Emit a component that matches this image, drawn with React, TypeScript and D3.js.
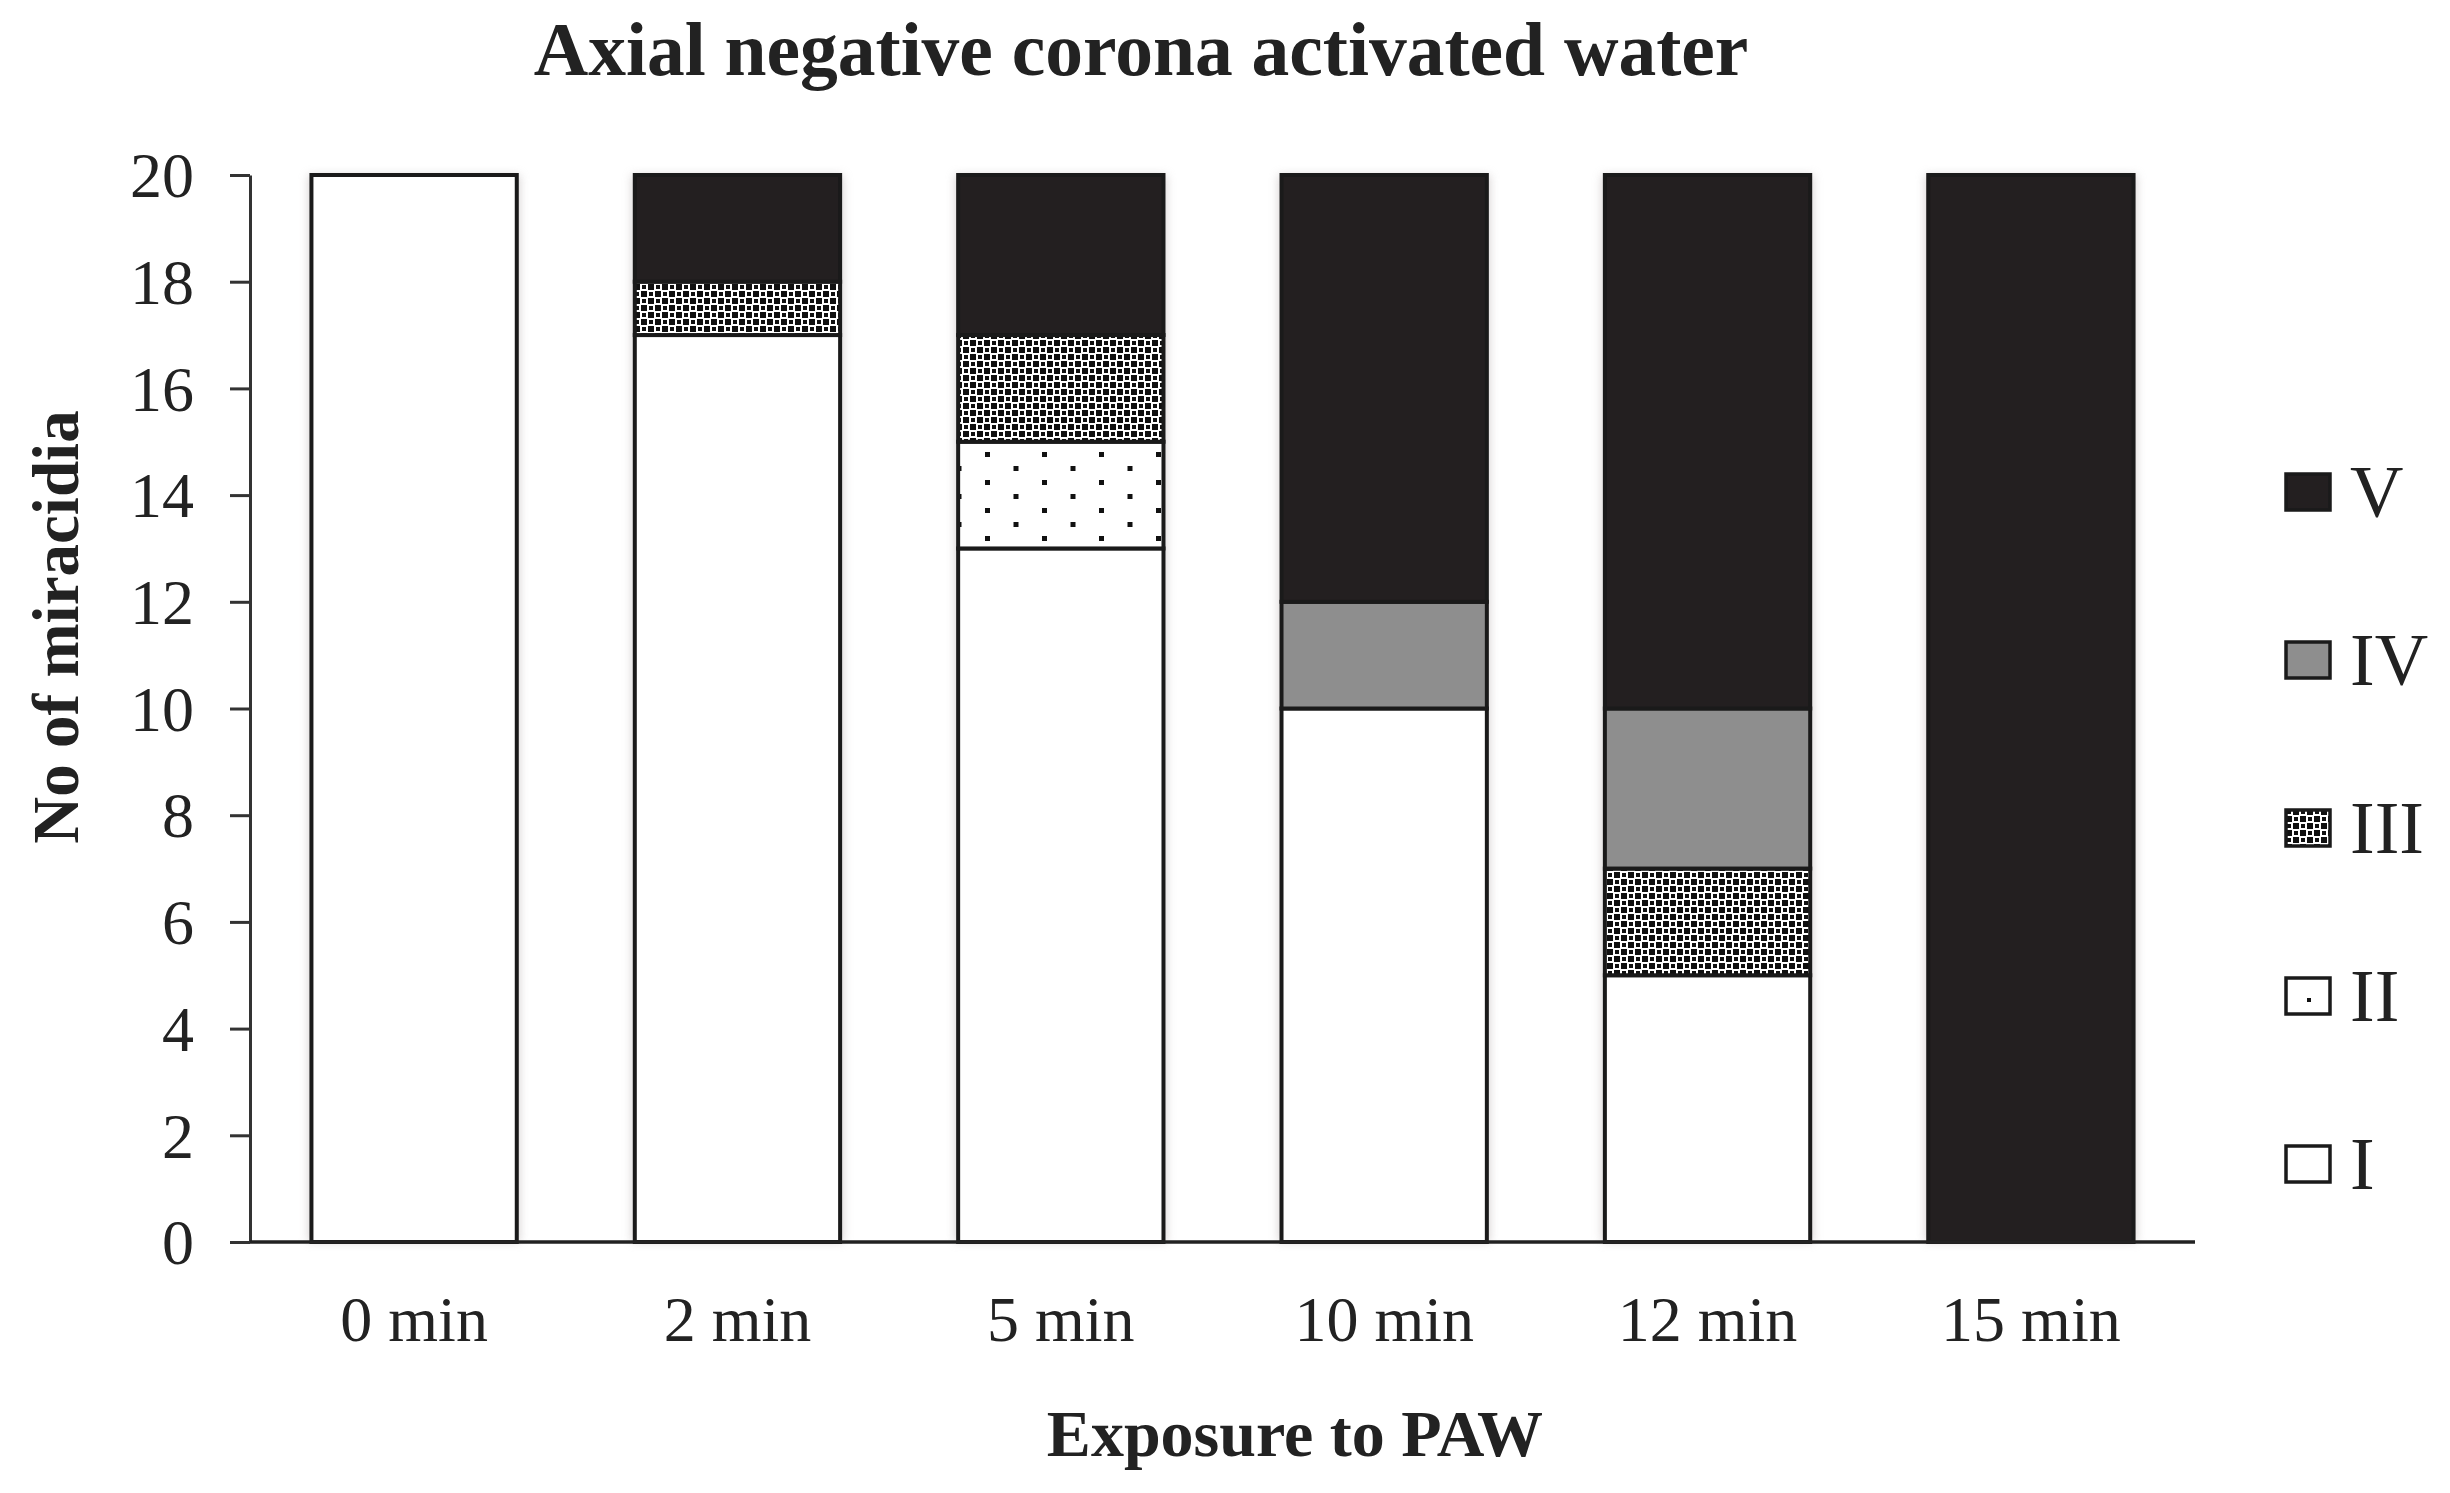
import React, { useRef, useEffect } from 'react';
import * as d3 from 'd3';

// exposure times on the x axis
const times = ['0 min', '2 min', '5 min', '10 min', '12 min', '15 min'];
// stage names, stacked bottom to top
const stages = ['I', 'II', 'III', 'IV', 'V'];
// miracidia counts per stage for each exposure time
const stageI = [20, 17, 13, 10, 5, 0];
const stageII = [0, 0, 2, 0, 0, 0];
const stageIII = [0, 1, 2, 0, 2, 0];
const stageIV = [0, 0, 0, 2, 3, 0];
const stageV = [0, 2, 3, 8, 10, 20];
const yTicks = [0, 2, 4, 6, 8, 10, 12, 14, 16, 18, 20];

const W = 2450;
const H = 1493;
const FONT = '"Liberation Serif", "Times New Roman", serif';

const App = () => {
    const ref = useRef<SVGSVGElement>(null);

    useEffect(() => {
        const svg = d3.select(ref.current);
        svg.selectAll('*').remove();

        const left = 250, right = 2195, top = 175, bottom = 1242;

        const rows = times.map((t, i) => ({
            time: t,
            I: stageI[i], II: stageII[i], III: stageIII[i], IV: stageIV[i], V: stageV[i],
        }));
        const series = d3.stack().keys(stages)(rows as any);

        const x = d3.scaleBand().domain(times).range([left, right]).paddingInner(0.365).paddingOuter(0.19);
        const y = d3.scaleLinear().domain([0, 20]).range([bottom, top]);

        // --- fill patterns ---
        const defs = svg.append('defs');

        const checker = defs.append('pattern')
            .attr('id', 'pat-III').attr('patternUnits', 'userSpaceOnUse')
            .attr('width', 14).attr('height', 14);
        checker.append('rect').attr('width', 14).attr('height', 14).attr('fill', '#fff');
        [[0, 0], [14, 0], [0, 14], [14, 14], [7, 7]].forEach(([cx, cy]) =>
            checker.append('rect').attr('x', cx - 3).attr('y', cy - 3).attr('width', 6).attr('height', 6).attr('fill', '#111'));
        [[7, 0], [0, 7], [14, 7], [7, 14]].forEach(([cx, cy]) =>
            checker.append('rect').attr('x', cx - 2).attr('y', cy - 2).attr('width', 4).attr('height', 4).attr('fill', '#111'));

        const dots = defs.append('pattern')
            .attr('id', 'pat-II').attr('patternUnits', 'userSpaceOnUse')
            .attr('width', 57).attr('height', 28).attr('x', 4).attr('y', 2);
        dots.append('rect').attr('width', 57).attr('height', 28).attr('fill', '#fff');
        dots.append('rect').attr('x', 12).attr('y', 2).attr('width', 5).attr('height', 5).attr('fill', '#111');
        dots.append('rect').attr('x', 40.5).attr('y', 16).attr('width', 5).attr('height', 5).attr('fill', '#111');

        const legendDots = defs.append('pattern')
            .attr('id', 'pat-II-legend').attr('patternUnits', 'objectBoundingBox')
            .attr('width', 1).attr('height', 1);
        legendDots.append('rect').attr('width', 46).attr('height', 36).attr('fill', '#fff');
        legendDots.append('rect').attr('x', 21).attr('y', 20).attr('width', 4).attr('height', 4).attr('fill', '#111');

        const shadow = defs.append('filter').attr('id', 'halo')
            .attr('x', '-20%').attr('y', '-5%').attr('width', '140%').attr('height', '110%');
        shadow.append('feGaussianBlur').attr('stdDeviation', 5);

        const fills: Record<string, string> = {
            I: '#ffffff', II: 'url(#pat-II)', III: 'url(#pat-III)', IV: '#8e8e8e', V: '#231f20',
        };

        // soft halo behind each bar
        svg.append('g').selectAll('rect')
            .data(rows)
            .enter().append('rect')
            .attr('x', d => x(d.time)! - 3)
            .attr('y', y(20))
            .attr('width', x.bandwidth() + 6)
            .attr('height', y(0) - y(20))
            .attr('fill', '#b8b0b0')
            .attr('opacity', 0.55)
            .attr('filter', 'url(#halo)');

        // --- stacked bars ---
        const layer = svg.append('g');
        series.forEach(s => {
            layer.append('g').selectAll('rect')
                .data(s.filter(d => d[1] - d[0] > 0))
                .enter().append('rect')
                .attr('x', d => x((d.data as any).time)!)
                .attr('y', d => y(d[1]))
                .attr('width', x.bandwidth())
                .attr('height', d => y(d[0]) - y(d[1]))
                .attr('fill', fills[s.key])
                .attr('stroke', '#1a1a1a')
                .attr('stroke-width', 4);
        });

        // --- axes ---
        const yAxis = svg.append('g')
            .attr('transform', `translate(${left},0)`)
            .call(d3.axisLeft(y).tickValues(yTicks).tickSize(20).tickPadding(36).tickSizeOuter(0));
        yAxis.select('.domain').attr('stroke', '#333').attr('stroke-width', 3);
        yAxis.selectAll('.tick line').attr('stroke', '#333').attr('stroke-width', 3);
        yAxis.selectAll('.tick text')
            .attr('fill', '#222').style('font-family', FONT).style('font-size', '64px').attr('dy', '0.34em');

        svg.append('line')
            .attr('x1', left).attr('x2', right)
            .attr('y1', bottom).attr('y2', bottom)
            .attr('stroke', '#222').attr('stroke-width', 3.5);

        svg.append('g').selectAll('text')
            .data(times)
            .enter().append('text')
            .attr('x', d => x(d)! + x.bandwidth() / 2)
            .attr('y', 1341)
            .attr('text-anchor', 'middle')
            .attr('fill', '#222')
            .style('font-family', FONT).style('font-size', '64px')
            .text(d => d);

        // --- titles ---
        svg.append('text')
            .attr('x', 1141).attr('y', 75)
            .attr('text-anchor', 'middle').attr('fill', '#222')
            .style('font-family', FONT).style('font-weight', 'bold').style('font-size', '75.5px')
            .text('Axial negative corona activated water');

        svg.append('text')
            .attr('x', 1295).attr('y', 1456)
            .attr('text-anchor', 'middle').attr('fill', '#222')
            .style('font-family', FONT).style('font-weight', 'bold').style('font-size', '66px')
            .text('Exposure to PAW');

        svg.append('text')
            .attr('transform', 'translate(78,627) rotate(-90)')
            .attr('text-anchor', 'middle').attr('fill', '#222')
            .style('font-family', FONT).style('font-weight', 'bold').style('font-size', '65px')
            .text('No of miracidia');

        // --- legend, V on top ---
        const legendFills: Record<string, string> = { ...fills, II: 'url(#pat-II-legend)' };
        const legend = svg.append('g');
        stages.slice().reverse().forEach((k, i) => {
            const cy = 492 + i * 168;
            legend.append('rect')
                .attr('x', 2286).attr('y', cy - 18)
                .attr('width', 44).attr('height', 36)
                .attr('fill', legendFills[k])
                .attr('stroke', '#1a1a1a').attr('stroke-width', 3.5);
            legend.append('text')
                .attr('x', 2350).attr('y', cy + 25)
                .attr('fill', '#222')
                .style('font-family', FONT).style('font-size', '74px')
                .text(k);
        });
    }, []);

    return (
        <div style={{ position: 'absolute', left: 0, top: 0, background: '#fff' }}>
            <svg ref={ref} width={W} height={H} style={{ display: 'block' }}></svg>
        </div>
    );
};

export default App;
